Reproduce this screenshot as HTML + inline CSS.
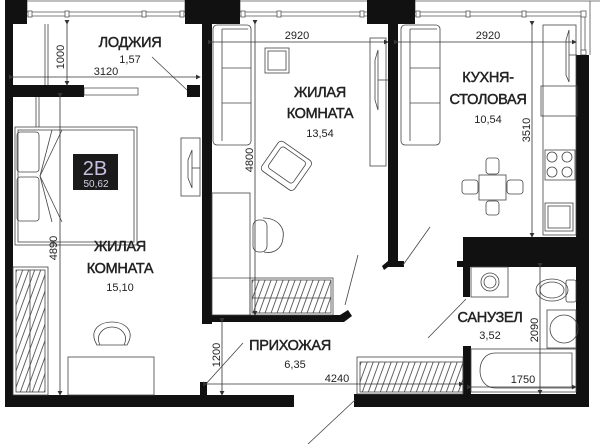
<!DOCTYPE html>
<html><head><meta charset="utf-8"><style>
html,body{margin:0;padding:0;background:#fff;}
svg{display:block}
text{font-family:"Liberation Sans",sans-serif;fill:#222;}
.t{font-size:14.5px;stroke:#222;stroke-width:0.45;text-anchor:middle;letter-spacing:-0.3px}
.s{font-size:11px;text-anchor:middle}
.d{font-size:11px;text-anchor:middle}
</style></head><body>
<svg width="600" height="444" viewBox="0 0 600 444" xmlns="http://www.w3.org/2000/svg">
<defs>
<pattern id="h" width="6" height="10" patternUnits="userSpaceOnUse" patternTransform="skewX(-20)"><line x1="1" y1="0" x2="1" y2="10" stroke="#333" stroke-width="0.8"/></pattern>
<marker id="a" markerWidth="6" markerHeight="6" refX="5" refY="3" orient="auto"><path d="M0,0 L6,3 L0,6z" fill="#333"/></marker>
</defs>
<rect width="600" height="444" fill="#fff"/>
<g stroke="#555" stroke-width="0.8" fill="none">
<line x1="27" y1="12" x2="185" y2="12"/><line x1="27" y1="16" x2="185" y2="16"/>
<line x1="240" y1="12" x2="367" y2="12"/><line x1="240" y1="16" x2="367" y2="16"/>
<line x1="415" y1="12" x2="585" y2="12"/><line x1="415" y1="16" x2="581" y2="16"/>
<line x1="585" y1="12" x2="585" y2="55"/><line x1="581" y1="16" x2="581" y2="55"/>
<line x1="27" y1="0" x2="27" y2="12"/><line x1="185" y1="0" x2="185" y2="12"/>
<line x1="240" y1="0" x2="240" y2="12"/><line x1="415" y1="0" x2="415" y2="12"/>
<line x1="27" y1="1" x2="600" y2="1"/><line x1="590" y1="1" x2="590" y2="55"/>
</g>
<g fill="#fff" stroke="#555" stroke-width="0.8">
<rect x="28" y="11" width="4" height="6"/><rect x="65" y="11" width="4" height="6"/><rect x="142" y="11" width="4" height="6"/><rect x="180" y="11" width="4" height="6"/>
<rect x="241" y="11" width="4" height="6"/><rect x="277" y="11" width="4" height="6"/><rect x="360" y="11" width="4" height="6"/>
<rect x="416" y="11" width="4" height="6"/><rect x="466" y="11" width="4" height="6"/><rect x="522" y="11" width="4" height="6"/><rect x="581" y="11" width="5" height="6"/><rect x="581" y="50" width="5" height="5"/>
<rect x="84" y="88" width="54" height="7"/>
</g>
<g fill="#111">
<rect x="5" y="0" width="22" height="24"/>
<rect x="5" y="0" width="8" height="407"/>
<rect x="185" y="0" width="55" height="24"/>
<rect x="202" y="24" width="10" height="300"/>
<rect x="12" y="85" width="72" height="12"/>
<rect x="187" y="85" width="13" height="12"/>
<rect x="202" y="315" width="140" height="7"/>
<polygon points="340,315 348,310 352,316 344,322 340,322"/>
<rect x="5" y="395" width="289" height="12"/>
<rect x="200" y="382" width="7" height="13"/>
<rect x="367" y="0" width="48" height="24"/>
<rect x="388" y="24" width="10" height="238"/>
<polygon points="382,266 388,261 404,261 404,267 388,267 384,270"/>
<rect x="463" y="237" width="113" height="30"/>
<rect x="457" y="261" width="8" height="6"/>
<rect x="463" y="267" width="7" height="30"/>
<rect x="463" y="346" width="8" height="50"/>
<rect x="354" y="394" width="235" height="13"/>
<rect x="576" y="55" width="13" height="352"/>
</g>
<g stroke="#444" stroke-width="0.8" fill="none">
<line x1="45" y1="24" x2="45" y2="85"/><line x1="48" y1="24" x2="48" y2="85"/>
<rect x="15" y="127" width="122" height="118"/><rect x="18" y="130" width="116" height="112"/>
<rect x="17" y="132" width="22" height="40" rx="3"/><rect x="17" y="177" width="22" height="44" rx="3"/>
<line x1="40" y1="176" x2="52" y2="130"/><line x1="40" y1="176" x2="62" y2="130"/><line x1="40" y1="176" x2="52" y2="222"/><line x1="40" y1="176" x2="62" y2="222"/>
<line x1="36" y1="97" x2="36" y2="127"/><line x1="39" y1="97" x2="39" y2="127"/>
<rect x="13" y="267" width="35" height="128"/><rect x="16" y="270" width="29" height="122" fill="url(#h)"/>
<line x1="30" y1="270" x2="30" y2="392"/>
<rect x="68" y="357" width="86" height="38"/>
<path d="M97,345 C88,330 100,322 112,322 C124,322 136,330 127,345 Z"/>
<path d="M100,345 C95,335 103,327 112,327 C121,327 129,335 124,345"/>
<rect x="181" y="138" width="19" height="58"/>
<path d="M192,150 L188,160 L188,178 L192,188 Z"/><line x1="192" y1="168" x2="200" y2="168"/>
<rect x="213" y="25" width="38" height="120" rx="4"/>
<line x1="222" y1="29" x2="248" y2="29"/><line x1="222" y1="68" x2="251" y2="68"/><line x1="222" y1="103" x2="251" y2="103"/><line x1="222" y1="29" x2="222" y2="141"/>
<rect x="265" y="48" width="24" height="25"/><rect x="268" y="51" width="18" height="19"/>
<g transform="rotate(35 287 165)"><rect x="267" y="148" width="40" height="36" rx="4"/><rect x="272" y="152" width="30" height="26" rx="3"/></g>
<rect x="370" y="38" width="16" height="128"/><path d="M378,50 L375,60 L375,100 L378,110 Z"/><line x1="378" y1="80" x2="388" y2="80"/>
<rect x="212" y="193" width="38" height="122"/><line x1="212" y1="278" x2="250" y2="278"/>
<path d="M263,218 C278,218 285,228 283,238 C282,250 272,254 264,252"/>
<rect x="253" y="220" width="14" height="32" rx="6"/>
<rect x="250" y="278" width="83" height="37"/><rect x="252" y="280" width="79" height="33" fill="url(#h)"/>
<line x1="252" y1="298" x2="331" y2="298"/>
<rect x="401" y="25" width="39" height="120" rx="4"/>
<line x1="410" y1="29" x2="437" y2="29"/><line x1="410" y1="68" x2="440" y2="68"/><line x1="410" y1="103" x2="440" y2="103"/><line x1="410" y1="29" x2="410" y2="141"/>
<rect x="479" y="175" width="27" height="25"/>
<rect x="486" y="158" width="13" height="16" rx="3"/><rect x="486" y="201" width="13" height="14" rx="3"/>
<rect x="462" y="180" width="16" height="14" rx="3"/><rect x="507" y="180" width="16" height="14" rx="3"/>
<rect x="543" y="25" width="33" height="210"/>
<rect x="541" y="86" width="36" height="30"/>
<rect x="545" y="150" width="30" height="30"/>
<circle cx="552" cy="157" r="5"/><circle cx="567" cy="157" r="5"/><circle cx="552" cy="172" r="5"/><circle cx="567" cy="172" r="5"/>
<rect x="545" y="203" width="28" height="28"/><rect x="548" y="206" width="22" height="22"/>
<path d="M569,30 L566,40 L566,75 L569,82 Z"/><line x1="569" y1="55" x2="577" y2="55"/>
<rect x="471" y="267" width="37" height="30"/><circle cx="490" cy="282" r="9"/><circle cx="490" cy="282" r="6"/>
<ellipse cx="552" cy="290" rx="16" ry="11"/><ellipse cx="552" cy="290" rx="12" ry="8"/><rect x="566" y="280" width="10" height="22" rx="2"/>
<rect x="547" y="310" width="29" height="38"/><circle cx="564" cy="329" r="14"/>
<rect x="471" y="349" width="105" height="43"/>
<path d="M495,353 L572,353 L572,388 L495,388 C475,388 475,353 495,353 Z"/>
<rect x="357" y="357" width="106" height="37"/><rect x="360" y="362" width="103" height="30" fill="url(#h)"/>
<line x1="152" y1="57" x2="187" y2="90"/>
<line x1="430" y1="227" x2="403" y2="265"/>
<line x1="358" y1="255" x2="345" y2="305"/>
<line x1="466" y1="299" x2="428" y2="338"/>
<line x1="243" y1="343" x2="205" y2="385"/>
<line x1="355" y1="400" x2="308" y2="444"/>
</g>
<g stroke="#333" stroke-width="0.8">
<line x1="67" y1="24" x2="67" y2="85" marker-start="url(#a)" marker-end="url(#a)"/>
<line x1="13" y1="77" x2="200" y2="77" marker-start="url(#a)" marker-end="url(#a)"/>
<line x1="60" y1="97" x2="60" y2="395" marker-start="url(#a)" marker-end="url(#a)"/>
<line x1="212" y1="42" x2="388" y2="42" marker-start="url(#a)" marker-end="url(#a)"/>
<line x1="398" y1="42" x2="576" y2="42" marker-start="url(#a)" marker-end="url(#a)"/>
<line x1="532" y1="25" x2="532" y2="237" marker-start="url(#a)" marker-end="url(#a)"/>
<line x1="255" y1="24" x2="255" y2="315" marker-start="url(#a)" marker-end="url(#a)"/>
<line x1="222" y1="322" x2="222" y2="395" marker-start="url(#a)" marker-end="url(#a)"/>
<line x1="207" y1="384" x2="463" y2="384" marker-start="url(#a)" marker-end="url(#a)"/>
<line x1="540" y1="267" x2="540" y2="394" marker-start="url(#a)" marker-end="url(#a)"/>
<line x1="471" y1="387" x2="576" y2="387" marker-start="url(#a)" marker-end="url(#a)"/>
</g>
<text class="t" x="130" y="47">ЛОДЖИЯ</text>
<text class="s" x="130" y="63">1,57</text>
<text class="d" x="106" y="75">3120</text>
<text class="d" transform="translate(64,57) rotate(-90)">1000</text>
<text class="d" x="297" y="39">2920</text>
<text class="d" x="488" y="39">2920</text>
<text class="t" x="320" y="97">ЖИЛАЯ</text>
<text class="t" x="320" y="118">КОМНАТА</text>
<text class="s" x="320" y="137">13,54</text>
<text class="t" x="488" y="82">КУХНЯ-</text>
<text class="t" x="488" y="104">СТОЛОВАЯ</text>
<text class="s" x="488" y="123">10,54</text>
<text class="d" transform="translate(530,130) rotate(-90)">3510</text>
<text class="d" transform="translate(253,160) rotate(-90)">4800</text>
<text class="d" transform="translate(57,248) rotate(-90)">4890</text>
<rect x="73" y="154" width="45" height="36" fill="#1a1a1a"/>
<text x="95" y="175" style="font-size:20px;text-anchor:middle;fill:#c8c0e0;font-family:'Liberation Sans',sans-serif">2В</text>
<text x="96" y="187" style="font-size:10px;text-anchor:middle;fill:#d8d0e8">50,62</text>
<text class="t" x="120" y="251">ЖИЛАЯ</text>
<text class="t" x="120" y="273">КОМНАТА</text>
<text class="s" x="120" y="291">15,10</text>
<text class="t" x="290" y="350">ПРИХОЖАЯ</text>
<text class="s" x="295" y="368">6,35</text>
<text class="d" transform="translate(220,355) rotate(-90)">1200</text>
<text class="d" x="337" y="382">4240</text>
<text class="t" x="490" y="322">САНУЗЕЛ</text>
<text class="s" x="490" y="339">3,52</text>
<text class="d" transform="translate(538,330) rotate(-90)">2090</text>
<text class="d" x="523" y="383">1750</text>
</svg>
</body></html>
